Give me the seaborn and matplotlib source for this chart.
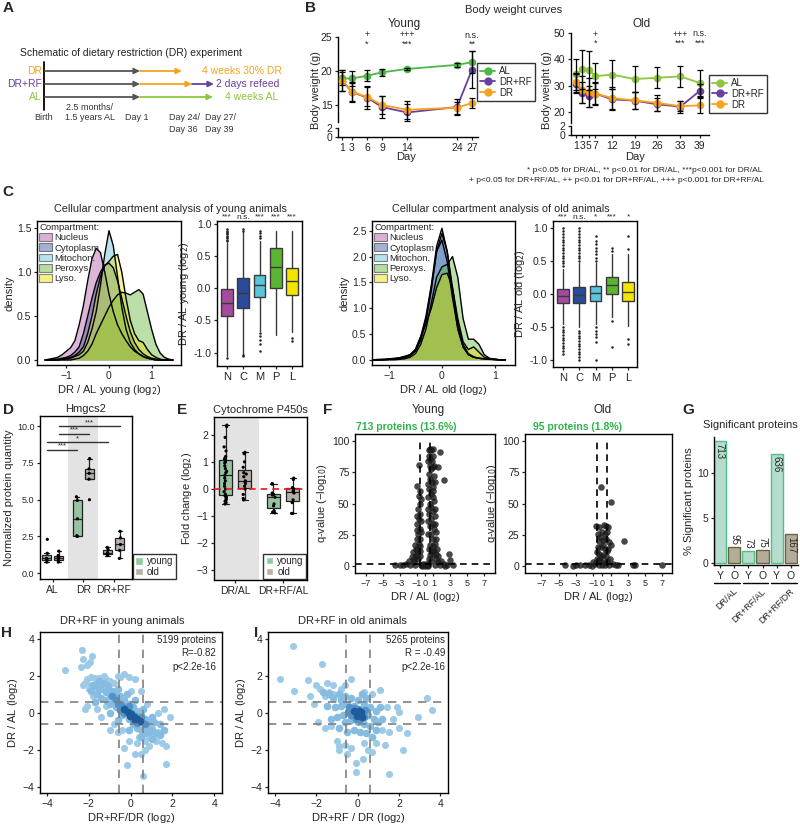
import numpy as np
import pandas as pd
import matplotlib
matplotlib.use("Agg")
import matplotlib.pyplot as plt
import matplotlib.transforms as mtransforms
from matplotlib.patches import Patch
from matplotlib.lines import Line2D
import seaborn as sns

sns.set_style("ticks")
plt.rcParams['font.family'] = ['Liberation Sans', 'DejaVu Sans']
plt.rcParams['font.size'] = 7.5
plt.rcParams['axes.linewidth'] = 1.0
plt.rcParams['axes.edgecolor'] = 'black'
plt.rcParams['xtick.major.size'] = 2.5
plt.rcParams['ytick.major.size'] = 2.5
plt.rcParams['xtick.major.width'] = 0.9
plt.rcParams['ytick.major.width'] = 0.9
plt.rcParams['xtick.major.pad'] = 1.5
plt.rcParams['ytick.major.pad'] = 1.5
plt.rcParams['axes.labelpad'] = 2
plt.rcParams['xtick.labelsize'] = 7.5
plt.rcParams['ytick.labelsize'] = 7.5
plt.rcParams['axes.labelsize'] = 8

# ---------------- data ----------------
# B: body weight (g), mean and sd
young_days = [1, 3, 6, 9, 14, 24, 27]
young_al = [18.9, 18.9, 19.3, 19.8, 20.3, 20.9, 21.3]
young_al_sd = [1.0, 1.1, 0.8, 0.5, 0.2, 0.3, 1.6]
young_rf = [18.6, 16.9, 16.1, 14.7, 13.9, 14.7, 20.2]
young_rf_sd = [1.6, 1.5, 1.7, 1.6, 1.3, 1.2, 2.7]
young_dr = [18.6, 16.9, 16.2, 15.0, 14.3, 14.6, 15.3]
young_dr_sd = [1.5, 1.3, 1.4, 1.3, 1.3, 0.9, 0.7]
young_sig_days = [6, 14, 27]
young_sig_rf = ['+', '+++', 'n.s.']
young_sig_dr = ['*', '***', '**']

old_days = [1, 3, 5, 7, 12, 19, 26, 33, 39]
old_al = [34.3, 36.2, 35.8, 33.6, 34.2, 32.5, 33.0, 33.5, 31.0]
old_al_sd = [6.0, 7.5, 7.5, 5.0, 5.5, 5.0, 4.0, 4.0, 4.8]
old_rf = [30.8, 27.3, 26.0, 27.0, 24.8, 24.3, 22.9, 22.0, 28.0]
old_rf_sd = [3.5, 4.0, 4.0, 4.5, 4.0, 3.2, 2.5, 2.3, 2.5]
old_dr = [31.2, 28.5, 27.5, 27.0, 25.3, 24.4, 23.4, 22.2, 22.5]
old_dr_sd = [3.5, 5.0, 5.5, 4.0, 4.0, 3.3, 3.0, 2.0, 2.8]
old_sig_days = [7, 33, 39]
old_sig_rf = ['+', '+++', 'n.s.']
old_sig_dr = ['*', '***', '***']

# C: density curves per compartment
cmp_names = ['Nucleus', 'Cytoplasm', 'Mitochon.', 'Peroxys.', 'Lyso.']
cmp_short = ['N', 'C', 'M', 'P', 'L']
grid_young = [-1.5, -1.4, -1.3, -1.2, -1.1, -1.0, -0.9, -0.8, -0.7, -0.6, -0.5, -0.4, -0.3, -0.2, -0.1, 0.0,
              0.1, 0.2, 0.3, 0.4, 0.5, 0.6, 0.7, 0.8, 0.9, 1.0, 1.1, 1.2, 1.3, 1.4, 1.5]
dens_young_nuc = [0.0, 0.01, 0.02, 0.03, 0.06, 0.10, 0.14, 0.22, 0.40, 0.62, 0.90, 1.15, 1.27, 1.22, 1.00, 0.75,
                  0.55, 0.40, 0.30, 0.22, 0.15, 0.10, 0.07, 0.04, 0.02, 0.01, 0.0, 0.0, 0.0, 0.0, 0.0]
dens_young_cyt = [0.0, 0.0, 0.01, 0.01, 0.02, 0.03, 0.05, 0.09, 0.15, 0.30, 0.50, 0.70, 0.88, 1.00, 1.08, 1.10,
                  1.05, 0.90, 0.70, 0.50, 0.32, 0.20, 0.12, 0.07, 0.04, 0.02, 0.01, 0.0, 0.0, 0.0, 0.0]
dens_young_mit = [0.0, 0.0, 0.0, 0.0, 0.01, 0.01, 0.02, 0.04, 0.06, 0.10, 0.20, 0.35, 0.55, 0.85, 1.20, 1.47,
                  1.30, 0.95, 0.60, 0.35, 0.20, 0.12, 0.07, 0.04, 0.02, 0.01, 0.0, 0.0, 0.0, 0.0, 0.0]
dens_young_per = [0.0, 0.0, 0.0, 0.0, 0.0, 0.0, 0.0, 0.01, 0.02, 0.05, 0.10, 0.18, 0.30, 0.40, 0.50, 0.60,
                  0.68, 0.74, 0.77, 0.76, 0.74, 0.77, 0.80, 0.75, 0.55, 0.35, 0.18, 0.08, 0.03, 0.01, 0.0]
dens_young_lys = [0.0, 0.0, 0.0, 0.0, 0.01, 0.02, 0.03, 0.05, 0.09, 0.15, 0.30, 0.50, 0.75, 0.95, 1.07, 1.12,
                  1.18, 1.20, 1.00, 0.70, 0.45, 0.30, 0.22, 0.20, 0.12, 0.06, 0.03, 0.01, 0.0, 0.0, 0.0]
grid_old = [-1.3, -1.2, -1.1, -1.0, -0.9, -0.8, -0.7, -0.6, -0.5, -0.4, -0.3, -0.2, -0.1, 0.0,
            0.1, 0.2, 0.3, 0.4, 0.5, 0.6, 0.7, 0.8, 0.9, 1.0, 1.1, 1.2]
dens_old_nuc = [0.0, 0.01, 0.01, 0.02, 0.03, 0.04, 0.06, 0.10, 0.20, 0.45, 0.85, 1.45, 2.20, 2.55,
                2.10, 1.30, 0.60, 0.25, 0.10, 0.05, 0.03, 0.02, 0.01, 0.01, 0.0, 0.0]
dens_old_cyt = [0.0, 0.0, 0.01, 0.01, 0.02, 0.03, 0.05, 0.09, 0.18, 0.40, 0.80, 1.40, 2.10, 2.45,
                2.10, 1.40, 0.70, 0.30, 0.12, 0.06, 0.03, 0.02, 0.01, 0.01, 0.0, 0.0]
dens_old_mit = [0.0, 0.0, 0.0, 0.01, 0.01, 0.02, 0.04, 0.08, 0.17, 0.38, 0.75, 1.35, 2.10, 2.32,
                1.90, 1.20, 0.60, 0.25, 0.10, 0.05, 0.03, 0.02, 0.01, 0.0, 0.0, 0.0]
dens_old_per = [0.0, 0.0, 0.0, 0.0, 0.0, 0.01, 0.02, 0.05, 0.12, 0.30, 0.60, 1.10, 1.60, 1.80,
                1.85, 2.00, 1.60, 0.80, 0.40, 0.40, 0.30, 0.10, 0.03, 0.01, 0.0, 0.0]
dens_old_lys = [0.0, 0.0, 0.0, 0.01, 0.02, 0.04, 0.07, 0.10, 0.20, 0.45, 0.70, 1.00, 1.40, 1.65,
                1.68, 1.40, 0.80, 0.35, 0.20, 0.25, 0.15, 0.05, 0.02, 0.01, 0.0, 0.0]

# C: box summaries (log2 DR/AL)
young_q1 = [-0.43, -0.31, -0.135, 0.01, -0.11]
young_med = [-0.23, -0.075, 0.05, 0.33, 0.12]
young_q3 = [-0.015, 0.16, 0.215, 0.63, 0.31]
young_lo = [-1.05, -1.02, -0.66, -0.72, -0.68]
young_hi = [0.70, 0.88, 0.74, 0.90, 0.90]
young_out = [[0.74, 0.76, 0.78, 0.80, 0.82, 0.84, 0.86, 0.88, 0.90, 0.92, -1.08],
             [0.90, 0.92, -1.04, -1.06],
             [0.78, 0.82, 0.86, 0.90, -0.70, -0.74, -0.80, -0.87, -0.97],
             [],
             [-0.78, -0.82]]
young_sig = ['***', 'n.s.', '***', '***', '***']
old_q1 = [-0.14, -0.14, -0.11, 0.0, -0.11]
old_med = [-0.03, -0.02, 0.015, 0.14, 0.025]
old_q3 = [0.075, 0.10, 0.125, 0.255, 0.18]
old_lo = [-0.45, -0.50, -0.45, -0.35, -0.48]
old_hi = [0.38, 0.46, 0.46, 0.60, 0.60]
old_out = [[0.42, 0.46, 0.50, 0.54, 0.58, 0.62, 0.66, 0.70, 0.74, 0.78, 0.82, 0.86, 0.90, 0.95, 1.0,
            -0.50, -0.54, -0.58, -0.62, -0.66, -0.70, -0.74, -0.78, -0.82, -0.86, -0.90],
           [0.50, 0.54, 0.58, 0.62, 0.66, 0.70, 0.74, 0.78, 0.82, 0.86, 0.90, 0.95, 1.0,
            -0.55, -0.59, -0.63, -0.67, -0.71, -0.75, -0.79, -0.83, -0.87, -0.91, -0.95, -1.0],
           [0.50, 0.55, 0.60, 0.65, 0.70, 0.75, 0.80, 0.87, -0.50, -0.55, -0.60, -0.65, -0.72, -1.0],
           [0.65, 0.70, -0.40, -0.80],
           [0.68, 0.87, -0.68, -0.75]]
old_sig = ['***', 'n.s.', '*', '***', '*']

# D: Hmgcs2 normalized quantity
hmg_groups = ['AL', 'DR', 'DR+RF']
hmg_al_young = [0.75, 0.9, 1.0, 1.0, 1.35, 2.3]
hmg_al_old = [0.75, 0.9, 1.0, 1.1, 1.2, 1.5]
hmg_dr_young = [2.5, 2.55, 3.7, 4.95, 5.2]
hmg_dr_old = [5.0, 6.4, 6.8, 7.1, 7.8]
hmg_rf_young = [1.2, 1.3, 1.4, 1.6, 1.75]
hmg_rf_old = [1.0, 1.55, 1.95, 2.4, 2.85]
hmg_sig = [('AL', 'young', 'DR', 'young', 8.4, '***'),
           ('AL', 'young', 'DR+RF', 'young', 8.9, '*'),
           ('AL', 'old', 'DR', 'old', 9.5, '***'),
           ('AL', 'old', 'DR+RF', 'old', 10.0, '***')]

# E: cytochrome P450 fold changes
cyp_groups = ['DR/AL', 'DR+RF/AL']
cyp_dral_young = [2.35, 2.3, 1.9, 1.55, 1.4, 1.2, 1.15, 1.1, 1.05, 1.0, 0.95, 0.85, 0.75, 0.65, 0.6, 0.5,
                  0.4, 0.3, 0.2, 0.1, 0.0, -0.1, -0.2, -0.25, -0.3, -0.3, -0.35, -0.4, -0.45, -0.5, -0.55]
cyp_dral_old = [1.35, 1.3, 1.0, 0.8, 0.6, 0.55, 0.45, 0.3, 0.25, 0.2, 0.1, 0.0, -0.2, -0.35, -0.4]
cyp_rfal_young = [0.2, 0.18, -0.15, -0.2, -0.22, -0.3, -0.55, -0.62, -0.8, -0.85, -0.88]
cyp_rfal_old = [0.4, 0.35, 0.05, 0.0, -0.05, -0.1, -0.15, -0.4, -0.5, -0.9, -0.9]

# F: volcano points (log2 DR/AL, -log10 q)
volc_young = [(0.45, 93), (0.6, 94), (0.75, 93), (0.9, 94), (1.75, 91), (0.5, 88), (0.65, 86), (0.8, 84),
              (0.55, 80), (0.7, 78), (0.9, 79), (1.1, 80), (1.6, 79), (2.3, 69), (1.2, 67), (0.5, 74),
              (0.65, 70), (0.8, 67), (0.95, 63), (0.5, 62), (0.7, 58), (0.9, 55), (1.1, 52), (0.55, 50),
              (0.75, 47), (0.95, 44), (1.2, 40), (0.5, 42), (0.7, 38), (0.9, 34), (1.1, 30), (1.3, 27),
              (0.55, 32), (0.7, 26), (0.9, 22), (1.15, 18), (1.4, 14), (0.6, 17), (0.8, 12), (1.0, 9),
              (1.3, 6), (1.6, 8), (1.9, 4), (2.2, 2), (2.6, 1), (2.9, 10), (3.0, 5), (3.3, 1),
              (0.35, 84), (1.0, 88), (0.4, 66), (1.05, 72), (0.35, 55), (1.0, 60), (0.4, 46), (1.15, 46),
              (0.35, 36), (1.2, 34), (0.4, 26), (1.25, 22), (0.45, 14), (1.1, 12), (0.5, 6), (0.7, 4),
              (1.5, 3), (0.95, 16), (0.6, 9), (1.3, 10),
              (-0.7, 81), (-1.0, 64), (-0.6, 60), (-0.75, 56), (-0.65, 50), (-0.8, 46), (-0.6, 42),
              (-0.75, 38), (-0.9, 34), (-0.65, 30), (-0.8, 26), (-1.0, 22), (-0.6, 22), (-0.75, 18),
              (-1.2, 17), (-0.9, 13), (-1.4, 11), (-0.65, 12), (-1.1, 8), (-1.6, 7), (-0.8, 6), (-1.9, 4),
              (-1.3, 3), (-2.3, 2), (-2.6, 1), (-3.0, 1), (-3.5, 0.5), (-0.5, 54), (-0.5, 36), (-0.9, 40),
              (-0.5, 27), (-1.0, 29), (-0.55, 16), (-1.1, 14), (-0.6, 8), (-0.95, 9), (-1.3, 6),
              (-0.5, 1), (-0.3, 0.5), (0.0, 0.3), (0.2, 0.8), (0.4, 1.2), (-0.2, 1.5), (0.1, 1.8),
              (-0.4, 0.2), (0.3, 0.2), (1.8, 0.5), (-1.8, 0.5), (1.2, 1), (-1.2, 1), (2.4, 0.3)]
volc_old = [(-0.1, 63), (1.1, 51), (2.6, 20), (7.0, 0.5), (3.6, 0.5), (3.85, 0.5), (-4.3, 0.5),
            (-0.65, 32), (-0.3, 31), (0.2, 33), (0.45, 32), (0.7, 31), (0.0, 27), (0.3, 26), (-0.2, 23),
            (0.1, 21), (0.5, 22), (0.85, 19), (1.0, 17), (-0.4, 20), (-0.5, 15), (-0.1, 15), (0.3, 14),
            (0.6, 12), (-0.3, 10), (0.1, 9), (0.5, 8), (0.9, 6), (-0.6, 6), (-0.2, 4), (0.3, 3), (-1.0, 3),
            (-0.8, 1.5), (-1.5, 1), (-2.0, 0.8), (-2.5, 0.5), (-3.0, 0.5), (-3.3, 0.3), (1.3, 2), (1.6, 1),
            (1.9, 0.5), (0.0, 1), (0.4, 0.5), (-0.4, 0.8), (-1.2, 0.4), (0.8, 1.2), (-0.1, 7), (0.15, 17),
            (-0.45, 26), (0.6, 27), (-0.6, 11), (0.75, 14), (-0.35, 5), (0.6, 4)]

# G: significant proteins
sig_bars = ['DR/AL Y', 'DR/AL O', 'DR+RF/AL Y', 'DR+RF/AL O', 'DR+RF/DR Y', 'DR+RF/DR O']
sig_age = ['Y', 'O', 'Y', 'O', 'Y', 'O']
sig_pct = [13.6, 1.8, 1.4, 1.45, 12.1, 3.2]
sig_n = [713, 95, 73, 75, 636, 167]
sig_groups = ['DR/AL', 'DR+RF/AL', 'DR+RF/DR']

# H/I: DR+RF/DR vs DR/AL, by local density level
h_light = [(-3.15, 2.3), (-2.35, 3.4), (-2.4, 2.45), (-2.3, 2.9), (-1.85, 3.05), (-1.95, 2.75), (-2.1, 2.6),
           (-1.9, 1.95), (-1.7, 1.9), (-1.5, 1.9), (-1.3, 2.0), (-0.6, 2.0), (-0.5, 1.95), (-0.3, 2.1),
           (-0.1, 1.95), (0.2, 1.8), (-2.2, 1.6), (-2.0, 1.3), (-1.8, 0.9), (-2.1, 0.4), (-1.6, 0.2),
           (-1.2, 0.4), (-2.2, 0.2), (-1.0, -0.9), (-0.8, -0.6), (-0.4, -0.9), (-0.3, -1.9), (-0.1, -1.5),
           (0.3, -1.6), (0.2, -2.2), (0.5, -2.2), (0.7, -2.0), (-0.2, -2.8), (0.6, -3.4), (1.2, -1.5),
           (1.5, -1.6), (1.7, -1.8), (1.7, -2.75), (1.3, 0.0), (1.6, 0.2), (0.8, 0.5), (0.5, 1.2),
           (-0.8, 1.6), (0.0, 1.2), (1.0, -0.8), (1.3, -1.0), (0.9, -1.3), (-1.4, -0.2), (1.9, -0.2),
           (-0.6, -1.0), (-1.2, 1.8), (-1.0, 1.7), (-1.6, 1.6), (-1.9, 1.5), (0.9, -1.8), (1.1, -1.2),
           (0.4, -1.3), (0.7, -1.5), (-2.3, 1.5), (-2.1, 1.8)]
h_mid = [(-1.8, 1.5), (-1.6, 1.4), (-1.4, 1.3), (-1.2, 1.1), (-1.0, 1.0), (-0.8, 0.8), (-0.6, 0.6), (-0.4, 0.4),
         (-0.2, 0.2), (0.0, 0.0), (0.2, -0.2), (0.4, -0.4), (0.6, -0.5), (0.8, -0.7), (1.0, -0.9), (1.2, -1.1),
         (-1.5, 1.7), (-1.3, 1.6), (-1.1, 1.45), (-0.9, 1.2), (-1.2, 0.7), (-1.0, 0.5), (-0.7, 0.3), (-0.5, 0.9),
         (-0.3, 0.7), (-0.1, 0.5), (0.1, 0.3), (0.3, 0.1), (0.5, -0.1), (0.7, -0.3), (0.9, -0.4), (0.3, -0.8),
         (0.5, -0.9), (0.1, -0.6), (-0.1, -0.3), (-0.4, -0.1), (0.7, -1.1), (1.1, -0.5), (-0.6, 1.3),
         (-1.6, 1.0), (0.9, -1.0), (-0.3, 0.1), (-1.9, 1.2), (-1.4, 0.8), (-0.8, 1.1), (-0.2, 1.0), (0.2, 0.7),
         (0.6, 0.2), (1.0, -0.2), (1.4, -0.6), (1.4, -1.2), (1.0, -1.4), (0.5, -1.3), (-0.1, -0.9),
         (-0.6, -0.4), (-1.0, 0.0), (1.6, -0.9), (-1.7, 0.6)]
h_inner = [(-0.7, 0.7), (-0.6, 0.5), (-0.4, 0.35), (-0.2, 0.2), (0.0, 0.0), (0.2, -0.15), (0.4, -0.3),
           (0.55, -0.5), (-0.5, 0.15), (-0.3, 0.0), (0.1, -0.3), (0.3, -0.55), (-0.1, 0.35), (0.5, -0.2),
           (-0.9, 0.9), (0.7, -0.6)]
h_core = [(-0.3, 0.2), (-0.15, 0.05), (0.0, -0.05), (0.15, -0.2), (0.3, -0.3), (0.45, -0.45), (-0.05, -0.15),
          (0.2, -0.4)]
i_light = [(-3.75, 1.85), (-3.15, 3.6), (-3.1, 1.2), (-2.4, 1.75), (-1.75, 2.65), (-2.0, 1.5), (-1.5, 1.6),
           (-1.2, 1.5), (-0.3, 1.85), (-1.8, 1.3), (-1.4, 1.1), (-1.6, 0.9), (-2.1, 0.5), (-1.6, -0.8),
           (-1.9, -0.5), (-1.0, -1.5), (-0.6, -1.7), (-0.3, -1.9), (0.3, -1.6), (0.5, -2.0), (0.7, -2.1),
           (-0.5, -2.2), (-0.9, -1.8), (-0.9, -2.0), (-0.1, -2.7), (-0.1, -3.15), (0.25, -2.5), (1.3, -1.7),
           (1.5, -3.3), (2.2, -2.0), (2.4, -1.1), (2.0, -0.8), (1.9, 0.3), (1.4, 0.3), (2.0, 0.05),
           (1.06, 1.25), (2.9, -0.2), (3.37, 0.8), (3.6, 0.15), (0.7, 1.0), (-1.2, 1.0), (1.5, -1.0),
           (1.2, -0.9), (-0.8, 1.3), (0.3, 1.1), (-2.3, 0.9), (0.9, -1.6), (-1.3, -0.7), (1.7, -0.3),
           (-0.6, 1.5)]
i_mid = [(-1.2, 0.8), (-0.9, 1.0), (-0.6, 0.9), (-0.3, 0.8), (0.0, 0.7), (0.3, 0.5), (0.6, 0.3), (0.9, 0.1),
         (-1.1, 0.3), (-0.8, 0.4), (-0.5, 0.5), (-0.2, 0.4), (0.2, 0.2), (0.5, -0.1), (0.8, -0.3), (1.0, -0.5),
         (-1.0, -0.2), (-0.7, -0.1), (-0.4, 0.0), (-0.6, -0.5), (-0.3, -0.4), (0.0, -0.5), (0.3, -0.6),
         (0.6, -0.7), (-0.2, -0.9), (0.1, -1.0), (0.4, -1.1), (-1.3, -0.3), (1.2, -0.3), (0.9, -0.9),
         (-0.8, 0.7), (-1.4, 1.0), (0.4, 0.8), (-0.5, -1.0), (-1.5, 0.4), (1.1, 0.3), (-0.9, -0.8),
         (0.7, -1.3), (0.2, 1.0), (-1.7, 1.1)]
i_inner = [(-0.4, 0.3), (-0.2, 0.25), (0.0, 0.2), (0.2, 0.0), (0.3, -0.2), (-0.3, -0.1), (-0.1, -0.3),
           (0.1, -0.35), (0.35, 0.15), (-0.45, 0.05)]
i_core = [(0.0, -0.05), (0.1, -0.1), (-0.1, 0.05), (0.15, 0.05), (-0.05, -0.15), (0.2, -0.2), (-0.2, 0.1),
          (0.05, 0.1)]

# colours
c_al_y, c_rf, c_dr, c_al_o = '#4DB748', '#6B3FA0', '#F7A21B', '#8DC63F'
cmp_colors = ['#B04FA6', '#3A4FA3', '#5CC3DA', '#5DB532', '#E8E000']
box_colors = ['#A54A9E', '#2A4A9C', '#5BC4DB', '#5CB531', '#F2E600']
age_colors = {'young': '#8FCB9B', 'old': '#B9B0A5'}
blue_levels = ['#9DCAE6', '#86BCE1', '#4F93C8', '#1D5B9A']

W, H = 800.0, 824.0
fig = plt.figure(figsize=(8, 8.24), dpi=100)


def panel(l, t, r, b):
    return fig.add_axes([l / W, 1 - b / H, (r - l) / W, (b - t) / H])


def ftext(x, y, s, **kw):
    kw.setdefault('ha', 'center')
    kw.setdefault('va', 'center')
    fig.text(x / W, 1 - y / H, s, **kw)


def full_box(ax):
    for s in ax.spines.values():
        s.set_visible(True)
        s.set_color('black')
        s.set_linewidth(1)


# ---------------- A: schematic ----------------
sch = panel(0, 0, 300, 150)
sch.set_xlim(0, 300)
sch.set_ylim(150, 0)
sch.axis('off')
sch.text(20, 53, 'Schematic of dietary restriction (DR) experiment', fontsize=7.5, va='center', color='#222')
sch.plot([44, 44], [62, 110], color='black', lw=1.3)


def arrow(x0, x1, y, col):
    sch.annotate('', xy=(x1, y), xytext=(x0, y),
                 arrowprops=dict(arrowstyle='-|>,head_length=0.45,head_width=0.22', color=col, lw=1.3,
                                 shrinkA=0, shrinkB=0))


for lab, y, col in [('DR', 71, c_dr), ('DR+RF', 84, c_rf), ('AL', 97, c_al_o)]:
    sch.text(42, y, lab, color=col, ha='right', va='center', fontsize=7.5)
    arrow(45, 140, y, '#555555')
arrow(140, 182, 71, c_dr)
arrow(140, 192, 84, c_dr)
arrow(192, 214, 84, c_rf)
arrow(140, 213, 97, c_al_o)
sch.text(202, 71, '4 weeks 30% DR', color=c_dr, va='center', fontsize=7.5)
sch.text(216, 84, '2 days refeed', color=c_rf, va='center', fontsize=7.5)
sch.text(225, 97, '4 weeks AL', color=c_al_o, va='center', fontsize=7.5)
for x, y, s, ha in [(44, 118, 'Birth', 'center'), (90, 107, '2.5 months/', 'center'),
                    (90, 118, '1.5 years AL', 'center'), (137, 118, 'Day 1', 'center'),
                    (169, 118, 'Day 24/', 'left'), (169, 129, 'Day 36', 'left'),
                    (205, 118, 'Day 27/', 'left'), (205, 129, 'Day 39', 'left')]:
    sch.text(x, y, s, ha=ha, va='center', fontsize=6.5, color='#333')

# ---------------- B: body weight ----------------
ftext(514, 10, 'Body weight curves', fontsize=8)


def weight_curves(box_u, box_l, days, means, sds, colors, ylim_u, yticks_u, xlim,
                  sig_days, sig_top, sig_bot, sig_rows, leg_xy, lab_x, day_x):
    axu = panel(*box_u)
    axl = panel(*box_l)
    for name in ['AL', 'DR+RF', 'DR']:
        sns.lineplot(x=days, y=means[name], color=colors[name], marker='o', markersize=5.5,
                     markeredgewidth=0, linewidth=1.3, ax=axu, zorder=3)
        axu.errorbar(days, means[name], yerr=sds[name], fmt='none', ecolor='black',
                     elinewidth=0.9, capsize=2, capthick=0.9, zorder=4)
    axu.set_ylim(*ylim_u)
    axu.set_yticks(yticks_u)
    axu.set_xlim(*xlim)
    axu.set_xticks([])
    for s in ['top', 'right', 'bottom']:
        axu.spines[s].set_visible(False)
    axu.set_xlabel('')
    axl.set_ylim(0, 2)
    axl.set_yticks([0, 2])
    axl.set_xlim(*xlim)
    axl.set_xticks(days)
    for s in ['top', 'right']:
        axl.spines[s].set_visible(False)
    axl.patch.set_alpha(0)
    trans = mtransforms.blended_transform_factory(axu.transData, fig.transFigure)
    for d, a, b in zip(sig_days, sig_top, sig_bot):
        axu.text(d, 1 - sig_rows[0] / H, a, transform=trans, ha='center', va='center', fontsize=6.5)
        axu.text(d, 1 - sig_rows[1] / H, b, transform=trans, ha='center', va='center', fontsize=6.5)
    handles = [Line2D([0], [0], color=colors[n], marker='o', ms=5, lw=1.3) for n in ['AL', 'DR+RF', 'DR']]
    leg = axu.legend(handles, ['AL', 'DR+RF', 'DR'], loc='upper left',
                     bbox_to_anchor=(leg_xy[0] / W, 1 - leg_xy[1] / H), bbox_transform=fig.transFigure,
                     frameon=True, fancybox=False, edgecolor='black', fontsize=7, handlelength=1.6,
                     borderpad=0.3, labelspacing=0.1, handletextpad=0.4, borderaxespad=0)
    leg.get_frame().set_linewidth(1)
    ftext(lab_x, 90, 'Body weight (g)', rotation=90, fontsize=8)
    ftext(day_x, 157, 'Day', fontsize=8)


young_means = {'AL': young_al, 'DR+RF': young_rf, 'DR': young_dr}
young_sds = {'AL': young_al_sd, 'DR+RF': young_rf_sd, 'DR': young_dr_sd}
old_means = {'AL': old_al, 'DR+RF': old_rf, 'DR': old_dr}
old_sds = {'AL': old_al_sd, 'DR+RF': old_rf_sd, 'DR': old_dr_sd}
weight_curves((338, 37, 478, 122), (338, 128, 478, 137), young_days, young_means, young_sds,
              {'AL': c_al_y, 'DR+RF': c_rf, 'DR': c_dr}, (12.5, 25), [15, 20, 25], (0.2, 28.2),
              young_sig_days, young_sig_rf, young_sig_dr, (35, 44), (477, 63), 316, 406)
ftext(404, 24, 'Young', fontsize=8.5)
weight_curves((571, 33, 709, 123), (571, 126, 709, 135), old_days, old_means, old_sds,
              {'AL': c_al_o, 'DR+RF': c_rf, 'DR': c_dr}, (15.8, 50), [20, 30, 40, 50], (-0.5, 41.8),
              old_sig_days, old_sig_rf, old_sig_dr, (34, 43), (709, 75), 547, 635)
ftext(642, 24, 'Old', fontsize=8.5)
ftext(762, 171, '* p<0.05 for DR/AL, ** p<0.01 for DR/AL, ***p<0.001 for DR/AL', ha='right', fontsize=6)
ftext(764, 181, '+ p<0.05 for DR+RF/AL, ++ p<0.01 for DR+RF/AL, +++ p<0.001 for DR+RF/AL',
      ha='right', fontsize=6)

# ---------------- C: compartments ----------------
ftext(170, 209, 'Cellular compartment analysis of young animals', fontsize=7.8)
ftext(501, 209, 'Cellular compartment analysis of old animals', fontsize=7.8)


def density_panel(box, grid, curves, xlim, ylim, yticks, xlabel):
    ax = panel(*box)
    for vals, col in zip(curves, cmp_colors):
        ax.fill_between(grid, 0, vals, color=col, alpha=0.42, linewidth=0)
        sns.lineplot(x=grid, y=vals, color='black', linewidth=1.0, ax=ax)
    ax.set_xlim(*xlim)
    ax.set_ylim(*ylim)
    ax.set_yticks(yticks)
    ax.set_yticklabels([f'{t:.1f}' for t in yticks])
    ax.set_xticks([-1, 0, 1])
    ax.set_xlabel(xlabel)
    ax.set_ylabel('density')
    full_box(ax)
    handles = [Patch(facecolor=c, alpha=0.45, edgecolor='black', linewidth=0.8) for c in cmp_colors]
    ax.legend(handles, cmp_names, title='Compartment:', loc='upper left', frameon=False, fontsize=6.8,
              title_fontsize=6.8, alignment='left', handlelength=1.3, handleheight=0.9, labelspacing=0.1,
              handletextpad=0.3, borderaxespad=0.15, borderpad=0.1)
    return ax


def box_panel(box, q1, med, q3, lo, hi, out, ylim, ylabel, sig, xlim):
    ax = panel(*box)
    stats = [dict(q1=a, med=m, q3=b, whislo=l, whishi=h, fliers=f)
             for a, m, b, l, h, f in zip(q1, med, q3, lo, hi, out)]
    bp = ax.bxp(stats, positions=list(range(5)), widths=0.72, patch_artist=True, showcaps=False,
                boxprops=dict(edgecolor='#3a3a3a', linewidth=1),
                medianprops=dict(color='#3a3a3a', linewidth=1),
                whiskerprops=dict(color='#3a3a3a', linewidth=1),
                flierprops=dict(marker='o', markersize=1.8, markerfacecolor='#222', markeredgecolor='none'))
    for patch, c in zip(bp['boxes'], box_colors):
        patch.set_facecolor(c)
    ax.set_xticks(list(range(5)))
    ax.set_xticklabels(cmp_short, fontsize=8)
    ax.set_xlim(*xlim)
    ax.set_ylim(*ylim)
    ax.set_yticks([-1.0, -0.5, 0.0, 0.5, 1.0])
    ax.set_yticklabels(['-1.0', '-0.5', '0.0', '0.5', '1.0'])
    ax.set_ylabel(ylabel)
    full_box(ax)
    trans = mtransforms.blended_transform_factory(ax.transData, ax.transAxes)
    for i, s in enumerate(sig):
        ax.text(i, 1.003, s, transform=trans, ha='center', va='bottom', fontsize=6)
    return ax


density_panel((37, 221, 181, 365), grid_young,
              [dens_young_nuc, dens_young_cyt, dens_young_mit, dens_young_per, dens_young_lys],
              (-1.69, 1.69), (-0.057, 1.58), [0.0, 0.5, 1.0, 1.5], 'DR / AL young (log$_2$)')
box_panel((217, 221, 302, 366), young_q1, young_med, young_q3, young_lo, young_hi, young_out,
          (-1.21, 1.05), 'DR / AL young (log$_2$)', young_sig, (-0.6, 4.6))
density_panel((372, 221, 515, 365), grid_old,
              [dens_old_nuc, dens_old_cyt, dens_old_mit, dens_old_per, dens_old_lys],
              (-1.32, 1.38), (-0.1, 2.69), [0.0, 0.5, 1.0, 1.5, 2.0, 2.5], 'DR / AL old (log$_2$)')
box_panel((553, 221, 637, 367), old_q1, old_med, old_q3, old_lo, old_hi, old_out,
          (-1.1, 1.1), 'DR / AL old (log$_2$)', old_sig, (-0.62, 4.55))

# ---------------- D: Hmgcs2 ----------------
rows = []
for g, a, vals in [('AL', 'young', hmg_al_young), ('AL', 'old', hmg_al_old), ('DR', 'young', hmg_dr_young),
                   ('DR', 'old', hmg_dr_old), ('DR+RF', 'young', hmg_rf_young), ('DR+RF', 'old', hmg_rf_old)]:
    rows += [(g, a, v) for v in vals]
df_hmg = pd.DataFrame(rows, columns=['group', 'age', 'value'])

axd = panel(40, 416, 132, 579)
axd.axvspan(0.5, 1.5, color='#E3E3E3', lw=0, zorder=0)
sns.boxplot(data=df_hmg, x='group', y='value', hue='age', order=hmg_groups, hue_order=['young', 'old'],
            palette=age_colors, width=0.8, gap=0.25, showfliers=False, linecolor='#222', linewidth=0.9,
            legend=False, ax=axd)
np.random.seed(3)
sns.stripplot(data=df_hmg, x='group', y='value', hue='age', order=hmg_groups, hue_order=['young', 'old'],
              palette={'young': 'black', 'old': 'black'}, dodge=True, jitter=0.05, size=2.3, legend=False,
              ax=axd)
axd.set_xlim(-0.42, 2.6)
axd.set_ylim(-0.4, 10.7)
axd.set_yticks([0, 2.5, 5, 7.5, 10])
axd.set_yticklabels(['0.0', '2.5', '5.0', '7.5', '10.0'], fontsize=6.5)
axd.set_xlabel('')
axd.set_ylabel('Normalized protein quantity', fontsize=8)
full_box(axd)
off = {'young': -0.2, 'old': 0.2}
for g1, a1, g2, a2, yv, lab in hmg_sig:
    x1 = hmg_groups.index(g1) + off[a1]
    x2 = hmg_groups.index(g2) + off[a2]
    axd.plot([x1, x2], [yv, yv], color='#333', lw=1)
    axd.text((x1 + x2) / 2, yv + 0.02, lab, ha='center', va='bottom', fontsize=5.5)
axd.set_title('Hmgcs2', fontsize=8, pad=3)
leg = axd.legend([Patch(facecolor=age_colors['young']), Patch(facecolor=age_colors['old'])], ['young', 'old'],
                 loc='upper left', bbox_to_anchor=(133 / W, 1 - 554 / H), bbox_transform=fig.transFigure,
                 frameon=True, fancybox=False, edgecolor='black', fontsize=7, handlelength=0.8,
                 handleheight=0.8, borderpad=0.25, labelspacing=0.05, handletextpad=0.4, borderaxespad=0)
leg.get_frame().set_linewidth(1)

# ---------------- E: cytochrome P450s ----------------
rows = []
for g, a, vals in [('DR/AL', 'young', cyp_dral_young), ('DR/AL', 'old', cyp_dral_old),
                   ('DR+RF/AL', 'young', cyp_rfal_young), ('DR+RF/AL', 'old', cyp_rfal_old)]:
    rows += [(g, a, v) for v in vals]
df_cyp = pd.DataFrame(rows, columns=['group', 'age', 'value'])

axe = panel(214, 417, 307, 580)
axe.axvspan(-0.5, 0.5, color='#E3E3E3', lw=0, zorder=0)
sns.boxplot(data=df_cyp, x='group', y='value', hue='age', order=cyp_groups, hue_order=['young', 'old'],
            palette=age_colors, width=0.8, gap=0.35, showfliers=False, linecolor='#222', linewidth=0.9,
            legend=False, ax=axe)
sns.stripplot(data=df_cyp, x='group', y='value', hue='age', order=cyp_groups, hue_order=['young', 'old'],
              palette={'young': 'black', 'old': 'black'}, dodge=True, jitter=0.07, size=2.3, legend=False,
              ax=axe)
axe.axhline(0, color='#E41A1C', lw=1.2, ls=(0, (4, 3)), zorder=5)
axe.set_xlim(-0.44, 1.5)
axe.set_ylim(-3.35, 2.65)
axe.set_yticks([-3, -2, -1, 0, 1, 2])
axe.set_xlabel('')
axe.set_ylabel('Fold change (log$_2$)', fontsize=8)
axe.set_title('Cytochrome P450s', fontsize=8, pad=3)
full_box(axe)
leg = axe.legend([Patch(facecolor=age_colors['young']), Patch(facecolor=age_colors['old'])], ['young', 'old'],
                 loc='lower right', frameon=True, fancybox=False, edgecolor='black', fontsize=7,
                 handlelength=0.8, handleheight=0.8, borderpad=0.25, labelspacing=0.05, handletextpad=0.4,
                 borderaxespad=0.1)
leg.get_frame().set_linewidth(1)


# ---------------- F: volcano plots ----------------
def volcano(box, pts, xlim, title, count, title_x, count_x):
    ax = panel(*box)
    xs, ys = zip(*pts)
    sns.scatterplot(x=list(xs), y=list(ys), color='#1a1a1a', alpha=0.8, s=22, linewidth=0, ax=ax)
    for v in [-0.58, 0.58]:
        ax.axvline(v, ymin=0.05, ymax=0.96, color='black', lw=1.2, ls=(0, (4, 3)))
    ax.axhline(2, color='black', lw=1.2, ls=(0, (4, 3)))
    ax.set_xlim(*xlim)
    ax.set_ylim(-5.6, 105.6)
    ax.set_xticks([-7, -5, -3, -1, 0, 1, 3, 5, 7])
    ax.tick_params(axis='x', labelsize=6.5)
    ax.set_yticks([0, 25, 50, 75, 100])
    ax.set_xlabel('DR / AL (log$_2$)')
    ax.set_ylabel('q-value (\u2212log$_{10}$)')
    full_box(ax)
    ftext(title_x, 410, title, fontsize=8.5)
    ftext(count_x, 427, count, fontsize=7.5, color='#2DB34A', fontweight='bold', ha='left')


volcano((355, 434, 495, 573), volc_young, (-8.3, 8.3), 'Young', '713 proteins (13.6%)', 428, 356)
volcano((525, 434, 672, 573), volc_old, (-8.9, 8.1), 'Old', '95 proteins (1.8%)', 603, 533)

# ---------------- G: significant proteins ----------------
axg = panel(714, 437, 798, 565)
face = {'Y': '#AEE3CD', 'O': '#B7AE95'}
edge = {'Y': '#4FC08D', 'O': '#6B6440'}
sns.barplot(x=sig_bars, y=sig_pct, hue=sig_bars, palette=[face[a] for a in sig_age], width=0.86,
            legend=False, ax=axg)
for p, a in zip(axg.patches, sig_age):
    p.set_edgecolor(edge[a])
    p.set_linewidth(1)
for i, (v, n) in enumerate(zip(sig_pct, sig_n)):
    if v > 3:
        axg.text(i, v - 0.25, str(n), rotation=270, ha='center', va='top', fontsize=7)
    else:
        axg.text(i, v + 0.25, str(n), rotation=270, ha='center', va='bottom', fontsize=7)
axg.set_xlim(-0.42, 5.5)
axg.set_ylim(-0.2, 14.0)
axg.set_yticks([0, 5, 10])
axg.set_xticks(list(range(6)))
axg.set_xticklabels(sig_age, fontsize=7.5)
axg.set_ylabel('% Significant proteins', fontsize=8)
axg.set_xlabel('')
for s in ['top', 'right']:
    axg.spines[s].set_visible(False)
trans = mtransforms.blended_transform_factory(axg.transData, axg.transAxes)
for gi, g in enumerate(sig_groups):
    axg.plot([2 * gi - 0.4, 2 * gi + 1.4], [-0.14, -0.14], transform=trans, clip_on=False, color='black', lw=1)
    axg.text(2 * gi + 0.9, -0.17, g, transform=trans, rotation=45, rotation_mode='anchor',
             ha='right', va='top', fontsize=6.5)
ftext(750, 425, 'Significant proteins', fontsize=8)


# ---------------- H / I: refeeding scatter ----------------
def refeed(box, levels, xlabel, title, title_x, notes, note_x):
    ax = panel(*box)
    for pts, col, sz in zip(levels, blue_levels, [26, 30, 30, 30]):
        xs, ys = zip(*pts)
        sns.scatterplot(x=list(xs), y=list(ys), color=col, s=sz, linewidth=0, ax=ax)
    for v in [-0.58, 0.58]:
        ax.axvline(v, color='#808080', lw=1.2, ls=(0, (5, 4)))
        ax.axhline(v, color='#808080', lw=1.2, ls=(0, (5, 4)))
    ax.set_xlim(-4.34, 4.37)
    ax.set_ylim(-4.3, 4.35)
    ax.set_xticks([-4, -2, 0, 2, 4])
    ax.set_yticks([-4, -2, 0, 2, 4])
    ax.set_xlabel(xlabel, fontsize=8)
    ax.set_ylabel('DR / AL (log$_2$)', fontsize=8)
    full_box(ax)
    ftext(title_x, 621, title, fontsize=8)
    for k, s in enumerate(notes):
        ftext(note_x, 640 + 13.5 * k, s, ha='right', fontsize=7)


refeed((40, 632, 222, 793), [h_light, h_mid, h_inner, h_core], 'DR+RF/DR (log$_2$)',
       'DR+RF in young animals', 122, ['5199 proteins', 'R=-0.82', 'p<2.2e-16'], 216)
refeed((268, 632, 448, 793), [i_light, i_mid, i_inner, i_core], 'DR+RF / DR (log$_2$)',
       'DR+RF in old animals', 352, ['5265 proteins', 'R = -0.49', 'p<2.2e-16'], 445)

# panel letters
for lab, x, y in [('A', 8, 8), ('B', 310, 8), ('C', 8, 192), ('D', 8, 410), ('E', 182, 410),
                  ('F', 328, 410), ('G', 688, 410), ('H', 6, 633), ('I', 256, 633)]:
    ftext(x, y, lab, fontsize=11, fontweight='bold')

fig.savefig('out.png', dpi=100)
